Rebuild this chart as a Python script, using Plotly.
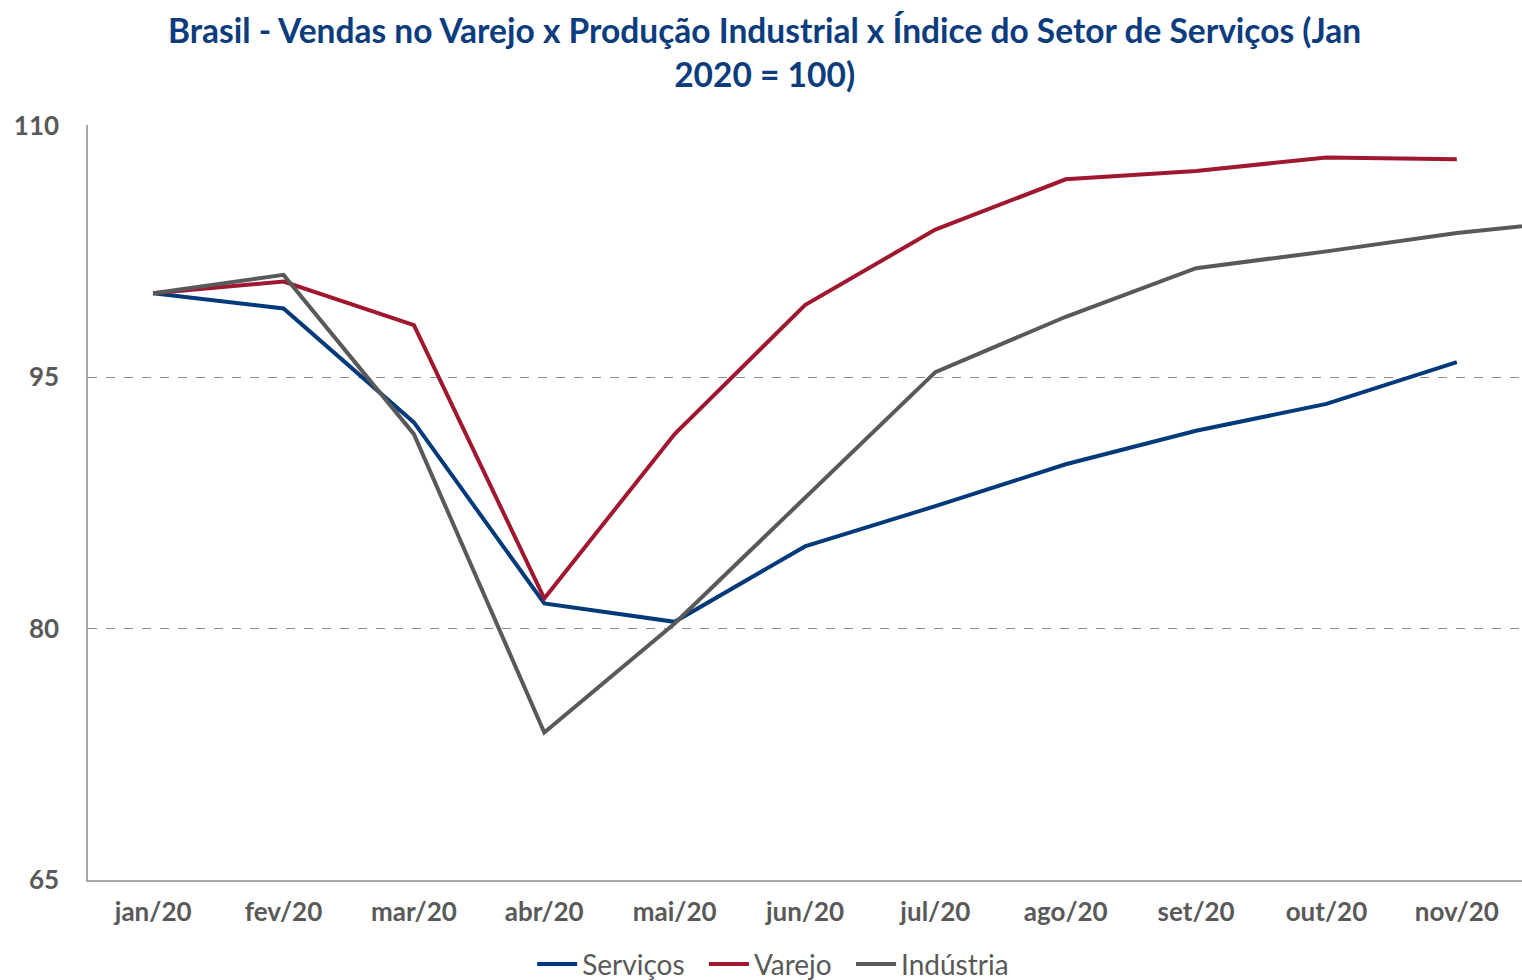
import plotly.graph_objects as go

meses = ["jan/20", "fev/20", "mar/20", "abr/20", "mai/20", "jun/20",
         "jul/20", "ago/20", "set/20", "out/20", "nov/20", "dez/20"]
servicos = [100.0, 99.1, 92.3, 81.5, 80.4, 84.9, 87.3, 89.8, 91.8, 93.4, 95.9]
varejo = [100.0, 100.7, 98.1, 81.8, 91.6, 99.3, 103.8, 106.8, 107.3, 108.1, 108.0]
industria = [100.0, 101.1, 91.6, 73.8, 80.3, 87.8, 95.3, 98.6, 101.5, 102.5, 103.6, 104.4]
y_ticks = [65, 80, 95, 110]
titulo = "Brasil - Vendas no Varejo x Produção Industrial x Índice do Setor de Serviços (Jan<br>2020 = 100)"

FONT = "Lato, 'Liberation Sans Narrow', Arial, sans-serif"

fig = go.Figure()
fig.add_trace(go.Scatter(x=list(range(len(servicos))), y=servicos, mode="lines", name="Serviços  ",
                         line=dict(color="#003A7A", width=4)))
fig.add_trace(go.Scatter(x=list(range(len(varejo))), y=varejo, mode="lines", name="Varejo  ",
                         line=dict(color="#A0182F", width=4)))
fig.add_trace(go.Scatter(x=list(range(len(industria))), y=industria, mode="lines", name="Indústria",
                         line=dict(color="#595959", width=4)))

fig.add_annotation(
    text="<b>%s</b>" % titulo, xref="paper", yref="paper", x=0.472, y=1.097,
    xanchor="center", yanchor="middle", showarrow=False, align="center",
    font=dict(size=33.5, color="#0B3C7D", family=FONT),
)

fig.update_layout(
    width=1522, height=980,
    paper_bgcolor="white", plot_bgcolor="white",
    margin=dict(l=88, r=0, t=125, b=100),
    font=dict(family=FONT, color="#595959"),
    showlegend=True,
    legend=dict(orientation="h", xref="container", yref="container",
                x=0.508, xanchor="center", y=0.016, yanchor="middle",
                font=dict(size=28, color="#595959", family=FONT),
                itemwidth=40, traceorder="normal", tracegroupgap=0),
    xaxis=dict(
        range=[-0.5, 10.5],
        tickmode="array", tickvals=list(range(len(meses))), ticktext=["<b>%s</b>" % m for m in meses],
        showgrid=False, zeroline=False,
        showline=True, linecolor="#A6A6A6", linewidth=1.5,
        ticks="", tickfont=dict(size=26, color="#595959"),
        ticklabelstandoff=8, automargin=False,
    ),
    yaxis=dict(
        range=[65, 110.04], tickmode="array", tickvals=y_ticks,
        ticktext=["<b>%d</b>" % v for v in y_ticks],
        showgrid=True, gridcolor="#8C8C8C", griddash="dash", gridwidth=1,
        zeroline=False, showline=True, linecolor="#A6A6A6", linewidth=1.5,
        ticks="", tickfont=dict(size=26, color="#595959"),
        ticklabelstandoff=22, automargin=False,
    ),
)

fig.write_html("out.html", config={"displayModeBar": False},
               post_script="document.body.style.margin='0';document.body.style.overflow='hidden';")
